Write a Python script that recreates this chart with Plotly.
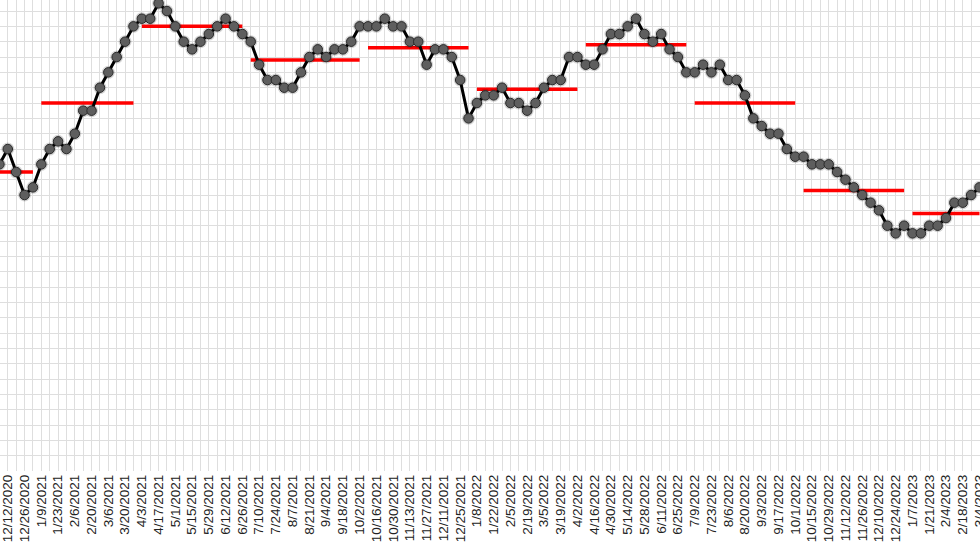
import pandas as pd
import plotly.graph_objects as go

# Weekly series (week-ending dates)
start_date = "2020-11-28"
values = [
    19.5, 20, 21, 19.5, 18, 18.5, 20, 21, 21.5, 21, 22, 23.5, 23.5, 25, 26, 27, 28, 29,
    29.5, 29.5, 30.5, 30, 29, 28, 27.5, 28, 28.5, 29, 29.5, 29, 28.5, 28, 26.5, 25.5,
    25.5, 25, 25, 26, 27, 27.5, 27, 27.5, 27.5, 28, 29, 29, 29, 29.5, 29, 29, 28, 28,
    26.5, 27.5, 27.5, 27, 25.5, 23, 24, 24.5, 24.5, 25, 24, 24, 23.5, 24, 25, 25.5,
    25.5, 27, 27, 26.5, 26.5, 27.5, 28.5, 28.5, 29, 29.5, 28.5, 28, 28.5, 27.5, 27,
    26, 26, 26.5, 26, 26.5, 25.5, 25.5, 24.5, 23, 22.5, 22, 22, 21, 20.5, 20.5, 20,
    20, 20, 19.5, 19, 18.5, 18, 17.5, 17, 16, 15.5, 16, 15.5, 15.5, 16, 16, 16.5,
    17.5, 17.5, 18, 18.5,
]
dates = pd.date_range(start_date, periods=len(values), freq="7D")

# Quarterly averages (red bars)
q_start = ["2020-10-03", "2021-01-09", "2021-04-03", "2021-07-03", "2021-10-09",
           "2022-01-08", "2022-04-09", "2022-07-09", "2022-10-08", "2023-01-07"]
q_end = ["2021-01-02", "2021-03-27", "2021-06-26", "2021-10-02", "2022-01-01",
         "2022-04-02", "2022-07-02", "2022-10-01", "2022-12-31", "2023-03-04"]
q_mean = [19.5, 24.0, 29.0, 26.8, 27.6, 24.9, 27.8, 24.0, 18.3, 16.8]

qx, qy = [], []
for s, e, m in zip(q_start, q_end, q_mean):
    qx += [s, e, None]
    qy += [m, m, None]

fig = go.Figure()
fig.add_trace(go.Scatter(x=qx, y=qy, mode="lines",
                         line=dict(color="#ff0000", width=3.5),
                         hoverinfo="skip"))
fig.add_trace(go.Scatter(x=dates, y=values, mode="markers",
                         marker=dict(size=13, color="rgba(0,0,0,0.16)"),
                         hoverinfo="skip"))
fig.add_trace(go.Scatter(x=dates, y=values, mode="lines+markers",
                         line=dict(color="#000000", width=3),
                         marker=dict(size=9.5, color="#5e5e5e",
                                     line=dict(color="#2a2a2a", width=1))))

grid = "#dedede"
fig.update_layout(
    width=980, height=552,
    margin=dict(l=0, r=0, t=0, b=81, autoexpand=False),
    paper_bgcolor="white", plot_bgcolor="white",
    showlegend=False,
    xaxis=dict(
        type="date", automargin=False,
        range=["2020-12-05 11:30", "2023-03-04 10:00"],
        tick0="2020-12-12", dtick=14 * 86400000,
        tickformat="%-m/%-d/%Y", tickangle=-90,
        ticklabeloverflow="allow",
        showgrid=True, gridcolor=grid, gridwidth=1,
        minor=dict(dtick=7 * 86400000, tick0="2020-12-12", showgrid=True,
                   gridcolor=grid, gridwidth=1),
        zeroline=False, showline=False, ticks="",
        tickfont=dict(family="Liberation Sans, Arial", size=13.5, color="#222222"),
    ),
    yaxis=dict(
        range=[0, 30.72], dtick=1, tick0=0, automargin=False,
        showgrid=True, gridcolor=grid, gridwidth=1,
        zeroline=False, showticklabels=False, ticks="", showline=False,
    ),
)

fig.write_html("out.html",
               config={"displayModeBar": False},
               post_script="document.body.style.margin='0';document.body.style.overflow='hidden';")
